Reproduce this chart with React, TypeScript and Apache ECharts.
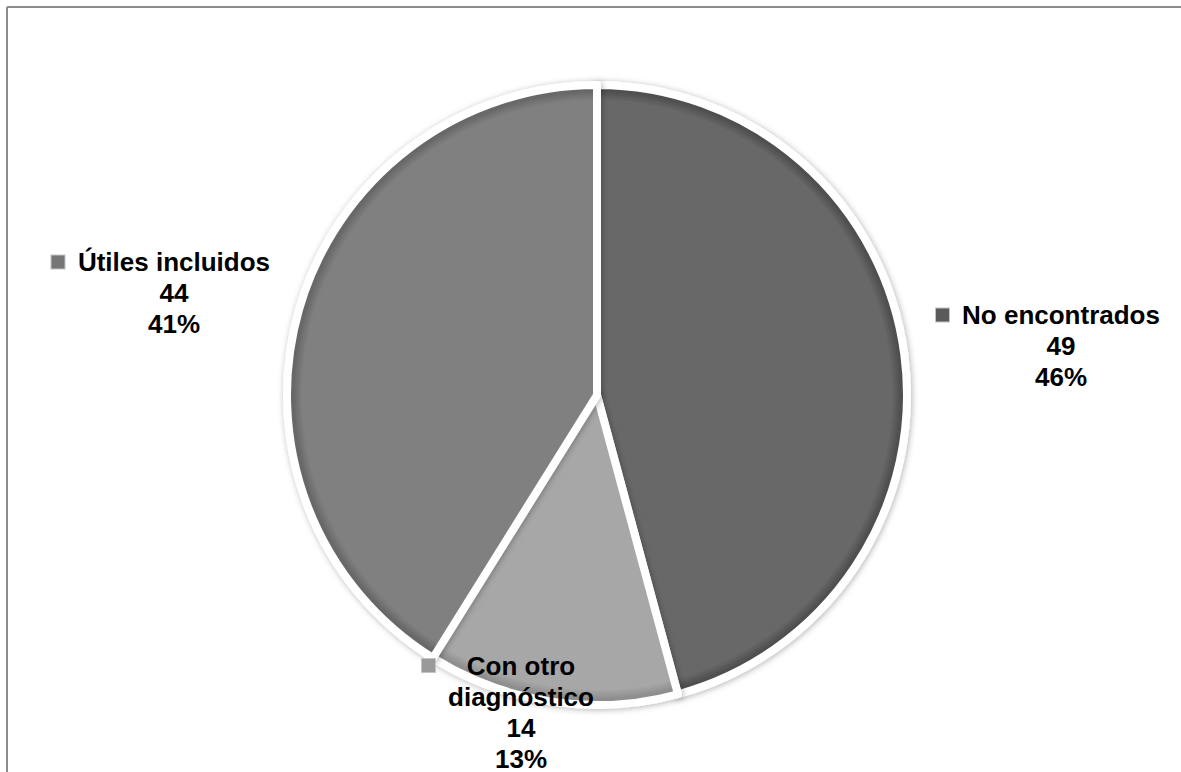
import React, { useEffect, useRef } from "react";
import * as echarts from "echarts";

// Classification of the reviewed cases
const categories = ["No encontrados", "Con otro\ndiagnóstico", "Útiles incluidos"];
const counts = [49, 14, 44];
const sliceColors = ["#686868", "#a7a7a7", "#808080"];
const rimColors = ["#4f4f4f", "#8e8e8e", "#676767"];
const markerColors = ["#5a5a5a", "#9a9a9a", "#767676"];

const FONT_FAMILY = '"Liberation Sans", Arial, sans-serif';
const FONT_SIZE = 26;
const MARK = 13;
const GAP = 12;
const CENTER: [number, number] = [597, 395];
const RADIUS = 310;

// Label centres (of the text column) around the pie
const labelCenters: [number, number][] = [
  [1061, 346],
  [521, 712],
  [174, 293],
];

function measure(text: string): number {
  const c = document.createElement("canvas").getContext("2d");
  if (!c) return text.length * FONT_SIZE * 0.6;
  c.font = `bold ${FONT_SIZE}px ${FONT_FAMILY}`;
  return c.measureText(text).width;
}

export default function App() {
  const ref = useRef<HTMLDivElement>(null);

  useEffect(() => {
    if (!ref.current) return;
    const chart = echarts.init(ref.current, undefined, { renderer: "svg" });
    const total = counts.reduce((a, b) => a + b, 0);

    const data = categories.map((name, i) => {
      const lines = [
        ...name.split("\n"),
        String(counts[i]),
        `${Math.round((counts[i] / total) * 100)}%`,
      ];
      const w = Math.ceil(Math.max(...lines.map(measure))) + 2;
      return {
        name,
        value: counts[i],
        itemStyle: {
          color: {
            type: "radial",
            x: CENTER[0],
            y: CENTER[1],
            r: RADIUS,
            global: true,
            colorStops: [
              { offset: 0, color: sliceColors[i] },
              { offset: 0.95, color: sliceColors[i] },
              { offset: 0.98, color: rimColors[i] },
              { offset: 1, color: rimColors[i] },
            ],
          },
        },
        label: {
          rich: {
            m: {
              width: MARK,
              height: MARK,
              backgroundColor: markerColors[i],
              borderColor: "#c4c4c4",
              borderWidth: 1,
              verticalAlign: "middle",
              lineHeight: 31,
            },
            g: { width: GAP, lineHeight: 31 },
            s: { width: MARK + GAP, lineHeight: 31 },
            t: {
              width: w,
              align: "center",
              fontSize: FONT_SIZE,
              fontWeight: "bold",
              fontFamily: FONT_FAMILY,
              color: "#000",
              lineHeight: 31,
            },
          },
        },
      };
    });

    chart.setOption({
      animation: false,
      backgroundColor: "#ffffff",
      graphic: [
        {
          type: "line",
          shape: { x1: 7, y1: 7, x2: 1181, y2: 7 },
          style: { stroke: "#8c8c8c", lineWidth: 2 },
        },
        {
          type: "line",
          shape: { x1: 7, y1: 7, x2: 7, y2: 772 },
          style: { stroke: "#8c8c8c", lineWidth: 2 },
        },
      ],
      series: [
        {
          type: "pie",
          center: CENTER,
          radius: RADIUS,
          startAngle: 90,
          clockwise: true,
          data,
          itemStyle: {
            borderColor: "#ffffff",
            borderWidth: 8,
            shadowBlur: 6,
            shadowColor: "rgba(0,0,0,0.3)",
            shadowOffsetX: 1,
            shadowOffsetY: 1,
          },
          labelLine: { show: false },
          label: {
            show: true,
            position: "inside",
            overflow: "none",
            formatter: (p: any) => {
              const lines = [
                ...String(p.name).split("\n"),
                String(p.value),
                `${Math.round(p.percent)}%`,
              ];
              return lines
                .map((l, k) => (k === 0 ? "{m|}{g|}" : "{s|}") + `{t|${l}}`)
                .join("\n");
            },
          },
          labelLayout: (params: any) => {
            const [cx, cy] = labelCenters[params.dataIndex];
            return {
              x: cx - (MARK + GAP) / 2,
              y: cy,
              align: "center",
              verticalAlign: "middle",
              hideOverlap: false,
            };
          },
          emphasis: { disabled: true },
        },
      ],
    });

    return () => chart.dispose();
  }, []);

  return (
    <div
      ref={ref}
      style={{ position: "absolute", left: 0, top: 0, width: 1181, height: 772 }}
    />
  );
}
